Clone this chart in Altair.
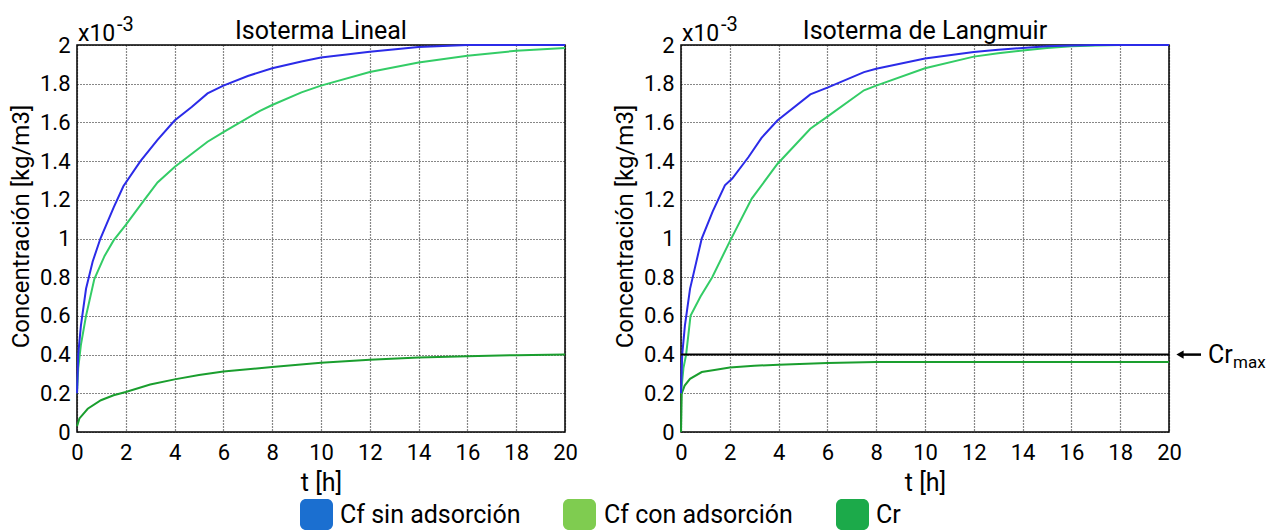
import altair as alt
import pandas as pd

FONT = "Roboto"

# ---------------- data ----------------
series_names = ["Cr", "Cf con adsorción", "Cf sin adsorción"]
line_colors = ["#1a9e2e", "#33cc66", "#2b2be8"]
legend_names = ["Cf sin adsorción", "Cf con adsorción", "Cr"]
legend_colors = ["#1b6fd0", "#7fcc50", "#1caa4a"]
panel_titles = ["Isoterma Lineal", "Isoterma de Langmuir"]
x_ticks = [0, 2, 4, 6, 8, 10, 12, 14, 16, 18, 20]
y_ticks = [0, 0.2, 0.4, 0.6, 0.8, 1, 1.2, 1.4, 1.6, 1.8, 2]
cr_max = [0.4]

# Isoterma Lineal (values x10^-3 kg/m3)
lin_sin_t = [0, 0.05, 0.16, 0.37, 0.64, 0.96, 1.5, 1.9, 2.6, 3.3, 4.0, 4.7, 5.35, 6.0, 7.0, 8.0, 9.2, 10, 12, 14, 16, 18, 20]
lin_sin_c = [0.2, 0.4, 0.55, 0.74, 0.88, 1.0, 1.16, 1.27, 1.4, 1.51, 1.61, 1.68, 1.75, 1.79, 1.84, 1.88, 1.915, 1.935, 1.965, 1.99, 2.0, 2.0, 2.0]
lin_con_t = [0, 0.05, 0.16, 0.37, 0.71, 1.13, 1.5, 2.0, 2.76, 3.3, 4.0, 5.35, 6.0, 7.5, 8.0, 9.2, 10, 12, 14, 16, 18, 20]
lin_con_c = [0.2, 0.33, 0.45, 0.6, 0.79, 0.91, 0.99, 1.07, 1.2, 1.29, 1.37, 1.5, 1.55, 1.66, 1.69, 1.755, 1.79, 1.86, 1.91, 1.945, 1.97, 1.985]
lin_cr_t = [0, 0.1, 0.44, 0.98, 1.5, 2.0, 3.0, 4.0, 5.0, 6.0, 8.0, 10, 12, 14, 16, 18, 20]
lin_cr_c = [0.03, 0.07, 0.12, 0.164, 0.19, 0.207, 0.245, 0.272, 0.295, 0.313, 0.336, 0.358, 0.374, 0.385, 0.392, 0.397, 0.4]

# Isoterma de Langmuir
lan_sin_t = [0, 0.05, 0.16, 0.37, 0.85, 1.3, 1.8, 2.1, 2.76, 3.3, 3.95, 5.3, 6.0, 7.5, 8.0, 10, 12, 13, 14, 15, 16, 17, 18, 20]
lan_sin_c = [0.2, 0.4, 0.55, 0.74, 1.0, 1.14, 1.275, 1.31, 1.42, 1.52, 1.61, 1.745, 1.78, 1.86, 1.877, 1.93, 1.964, 1.975, 1.985, 1.993, 1.998, 2.0, 2.0, 2.0]
lan_con_t = [0, 0.1, 0.21, 0.39, 0.8, 1.28, 1.98, 2.9, 3.95, 5.3, 6.0, 7.5, 8.0, 10, 12, 13, 14, 15, 16, 17, 18, 20]
lan_con_c = [0.2, 0.33, 0.4, 0.6, 0.7, 0.8, 0.98, 1.206, 1.385, 1.567, 1.63, 1.766, 1.79, 1.88, 1.94, 1.957, 1.972, 1.985, 1.993, 1.998, 2.0, 2.0]
lan_cr_t = [0, 0.03, 0.15, 0.37, 0.85, 1.37, 2.0, 3.0, 4.0, 6.0, 8.0, 10, 14, 20]
lan_cr_c = [0.0, 0.2, 0.24, 0.275, 0.31, 0.32, 0.333, 0.342, 0.348, 0.357, 0.362, 0.362, 0.362, 0.362]


def series_frame(pairs):
    rows = []
    for name, ts, cs in pairs:
        for t, c in zip(ts, cs):
            rows.append({"serie": name, "t": t, "c": c})
    return pd.DataFrame(rows)


lin_df = series_frame([("Cr", lin_cr_t, lin_cr_c),
                       ("Cf con adsorción", lin_con_t, lin_con_c),
                       ("Cf sin adsorción", lin_sin_t, lin_sin_c)])
lan_df = series_frame([("Cr", lan_cr_t, lan_cr_c),
                       ("Cf con adsorción", lan_con_t, lan_con_c),
                       ("Cf sin adsorción", lan_sin_t, lan_sin_c)])

one = pd.DataFrame({"k": [0]})

x_axis = alt.Axis(values=x_ticks, format="d", title="t [h]", titleY=38,
                  titleFontSize=25, labelPadding=10, labelFlush=False)
y_axis = alt.Axis(values=y_ticks, format="~g", title="Concentración [kg/m3]",
                  titleX=-44, titleY=181, labelPadding=7)
x_scale = alt.Scale(domain=[0, 20], nice=False, zero=False)
y_scale = alt.Scale(domain=[0, 2], nice=False)


def y_enc():
    return alt.Y("c:Q", scale=y_scale, axis=y_axis)


def panel(title, df):
    lines = alt.Chart(df).mark_line(strokeWidth=2).encode(
        x=alt.X("t:Q", scale=x_scale, axis=x_axis),
        y=y_enc(),
        color=alt.Color("serie:N", scale=alt.Scale(domain=series_names, range=line_colors), legend=None),
        order=alt.Order("t:Q"),
    )
    ttl = alt.Chart(one).mark_text(text=title, align="center", baseline="alphabetic",
                                    fontSize=25, font=FONT, color="black").encode(
        x=alt.value(244), y=alt.value(-6))
    exp_a = alt.Chart(one).mark_text(text="x10", align="left", baseline="alphabetic",
                                      fontSize=23, font=FONT, color="black").encode(
        x=alt.value(1), y=alt.value(-4))
    exp_b = alt.Chart(one).mark_text(text="-3", align="left", baseline="alphabetic",
                                      fontSize=20, font=FONT, color="black").encode(
        x=alt.value(40), y=alt.value(-14))
    return [lines, ttl, exp_a, exp_b]


left_layers = panel(panel_titles[0], lin_df)

# custom legend (placed under both panels, drawn in left panel coordinates)
swatch_x = [223, 486, 759]
text_x = [263, 527, 799]
for name, col, sx, tx in zip(legend_names, legend_colors, swatch_x, text_x):
    left_layers.append(alt.Chart(one).mark_rect(color=col, cornerRadius=6).encode(
        x=alt.value(sx), x2=alt.value(sx + 33), y=alt.value(454), y2=alt.value(485)))
    left_layers.append(alt.Chart(one).mark_text(text=name, align="left", baseline="middle",
                                                fontSize=25, font=FONT, color="black").encode(
        x=alt.value(tx), y=alt.value(470)))
left = alt.layer(*left_layers).properties(width=488, height=387)

right_layers = panel(panel_titles[1], lan_df)
crmax_df = pd.DataFrame({"c": cr_max})
right_layers += [
    alt.Chart(crmax_df).mark_rule(color="black", strokeWidth=2).encode(y=y_enc()),
    alt.Chart(crmax_df).mark_rule(color="black", strokeWidth=2.5).encode(
        x=alt.value(500), x2=alt.value(520), y=y_enc()),
    alt.Chart(crmax_df).mark_point(shape="triangle-left", filled=True, color="black",
                                   size=70, opacity=1).encode(x=alt.value(499), y=y_enc()),
    alt.Chart(crmax_df).mark_text(text="Cr", align="left", baseline="middle",
                                  fontSize=25, font=FONT, color="black").encode(
        x=alt.value(527), y=y_enc()),
    alt.Chart(crmax_df).mark_text(text="max", align="left", baseline="middle",
                                  fontSize=17, font=FONT, color="black", dy=8).encode(
        x=alt.value(552), y=y_enc()),
]
right = alt.layer(*right_layers).properties(width=488, height=387)

chart = alt.hconcat(left, right, spacing=116, bounds="flush").properties(
    padding={"left": 0, "top": 6, "right": 5, "bottom": 0},
    background="white",
).configure_view(
    stroke="black", strokeWidth=1.5
).configure_axis(
    grid=True, gridDash=[1, 2], gridColor="#111", gridWidth=1.2, gridOpacity=1,
    ticks=False, tickSize=0, domain=False,
    labelFont=FONT, labelFontSize=22, labelColor="black",
    titleFont=FONT, titleFontSize=24, titleColor="black", titleFontWeight="normal",
)

chart.save("out.html", embed_options={"renderer": "svg", "actions": False})
